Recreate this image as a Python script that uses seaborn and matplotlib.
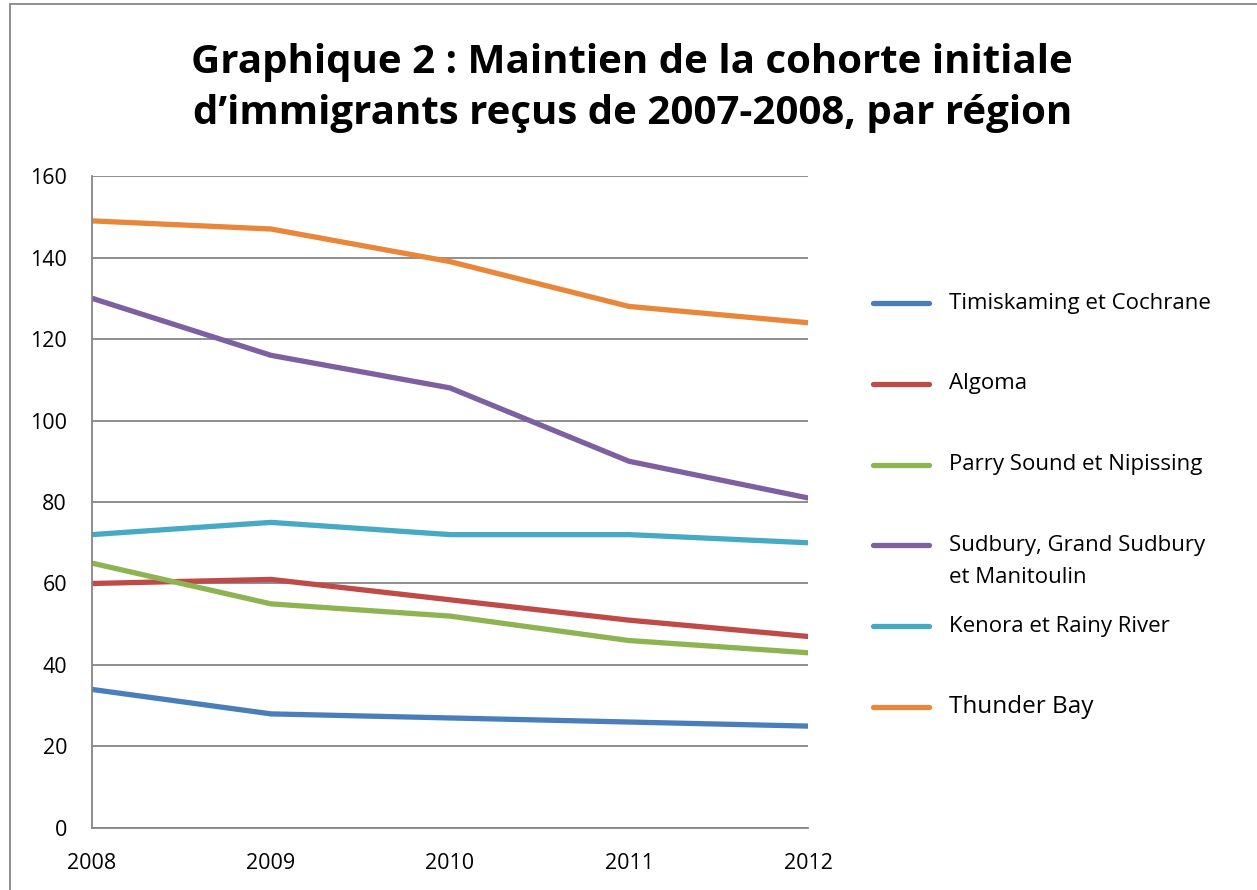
import pandas as pd
import numpy as np
import seaborn as sns
import matplotlib as mpl
import matplotlib.pyplot as plt
from matplotlib.patches import Rectangle
from matplotlib.lines import Line2D

# -----------------------------
# Data
# -----------------------------
years = [2008, 2009, 2010, 2011, 2012]
regions = ['Timiskaming et Cochrane', 'Algoma', 'Parry Sound et Nipissing',
           'Sudbury, Grand Sudbury\net Manitoulin', 'Kenora et Rainy River', 'Thunder Bay']
timiskaming = [34, 28, 27, 26, 25]
algoma = [60, 61, 56, 51, 47]
parry_sound = [65, 55, 52, 46, 43]
sudbury = [130, 116, 108, 90, 81]
kenora = [72, 75, 72, 72, 70]
thunder_bay = [149, 147, 139, 128, 124]
colors = ['#4A7EBB', '#BE4B48', '#8EB452', '#7D60A0', '#46AAC5', '#E8873A']

series = [timiskaming, algoma, parry_sound, sudbury, kenora, thunder_bay]
df = pd.DataFrame({
    'year': years * len(regions),
    'value': [v for s in series for v in s],
    'region': [r for r in regions for _ in years],
})

# -----------------------------
# Plot
# -----------------------------
sns.set_style('white')
plt.rcParams['font.family'] = ['Open Sans', 'DejaVu Sans']
plt.rcParams['text.color'] = 'black'

fig = plt.figure(figsize=(12.57, 8.90), dpi=100)
ax = fig.add_axes([0.0732, 0.0697, 0.5696, 0.7325])

sns.lineplot(data=df, x='year', y='value', hue='region', hue_order=regions,
             palette=colors, linewidth=3.8, ax=ax, legend=False)

ax.set_xlim(2008, 2012)
ax.set_ylim(0, 160)
ax.set_xticks(years)
ax.set_yticks(range(0, 161, 20))
ax.set_xlabel('')
ax.set_ylabel('')
ax.grid(axis='y', color='#868686', linewidth=1.3)
ax.set_axisbelow(True)
for side in ['top', 'right']:
    ax.spines[side].set_visible(False)
for side in ['left', 'bottom']:
    ax.spines[side].set_color('#868686')
    ax.spines[side].set_linewidth(1.3)
ax.tick_params(axis='both', direction='out', length=6, width=1.3, color='#868686',
               labelsize=15.5, labelcolor='black')
ax.tick_params(axis='y', pad=12)
ax.tick_params(axis='x', pad=12)

# legend, handle aligned with first text line like Excel
for i, (name, c) in enumerate(zip(regions, colors)):
    yy = 1 - (303 + i * 80.8) / 890
    fig.add_artist(Line2D([873 / 1257, 929 / 1257], [yy, yy], color=c,
                          linewidth=3.8, solid_capstyle='round'))
    fs = 17.5 if name == 'Thunder Bay' else 16
    for j, part in enumerate(name.split('\n')):
        fig.text(949 / 1257, yy - j * 32 / 890, part, fontsize=fs, va='center')

fig.suptitle("Graphique 2 : Maintien de la cohorte initiale\nd\u2019immigrants re\u00e7us de 2007-2008, par r\u00e9gion",
             x=0.503, y=0.952, va='top', fontsize=29, fontweight='bold', linespacing=1.42,
             color='black')

fig.add_artist(Rectangle((0.008, -0.05), 1.2, 1.045, transform=fig.transFigure,
                         fill=False, edgecolor='#868686', linewidth=1.3))

plt.savefig('out.png', dpi=100)
